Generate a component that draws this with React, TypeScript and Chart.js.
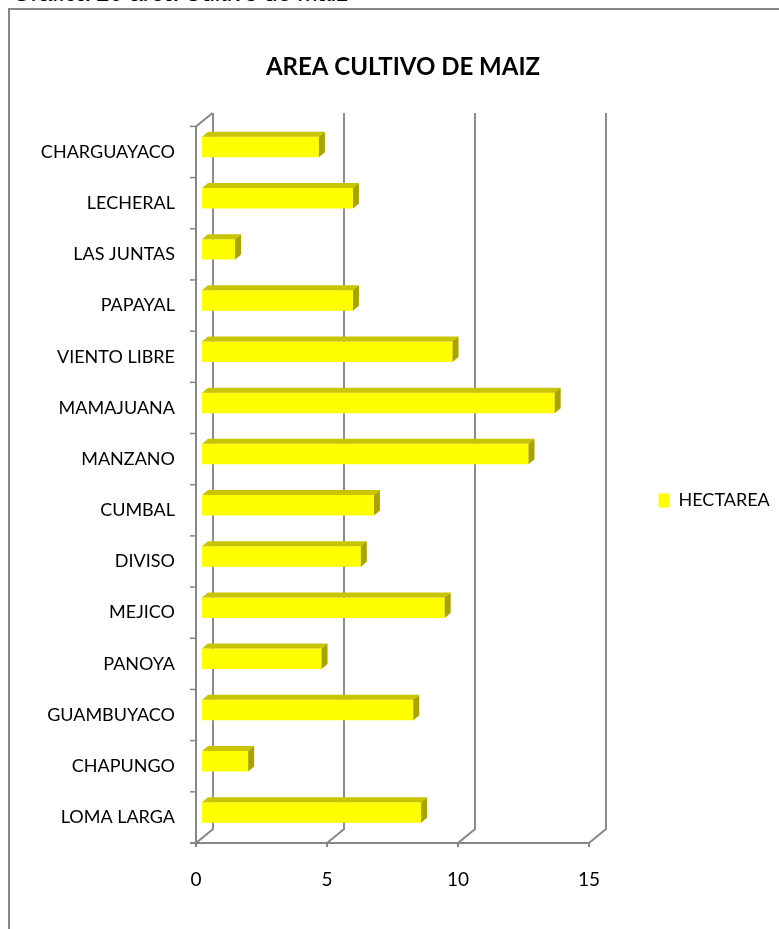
import React, { useEffect, useRef } from 'react';
import { Chart, registerables } from 'chart.js';

Chart.register(...registerables);

const pageHeading = 'Grafica 20 area Cultivo de maiz';
const chartTitle = 'AREA CULTIVO DE MAIZ';
const seriesLabel = 'HECTAREA';
const categories = [
  'CHARGUAYACO',
  'LECHERAL',
  'LAS JUNTAS',
  'PAPAYAL',
  'VIENTO LIBRE',
  'MAMAJUANA',
  'MANZANO',
  'CUMBAL',
  'DIVISO',
  'MEJICO',
  'PANOYA',
  'GUAMBUYACO',
  'CHAPUNGO',
  'LOMA LARGA',
];
const hectareas = [4.5, 5.8, 1.3, 5.8, 9.6, 13.5, 12.5, 6.6, 6.1, 9.3, 4.6, 8.1, 1.8, 8.4];
const xMin = 0;
const xMax = 15;
const xStep = 5;

// 3D look: back wall = chart area; front plane and bars offset from it
const FRONT_DX = -16.5;
const FRONT_DY = 13.5;
const BAR_DX = -11.5;
const BAR_DY = 8.5;
const DEPTH_DX = 6;
const DEPTH_DY = -5;
const AXIS_COLOR = '#868686';
const BAR_FRONT = '#FFFF00';
const BAR_TOP = '#C8C400';
const BAR_SIDE = '#A8A300';

const threeD = {
  id: 'threeD',
  beforeDatasetsDraw(chart: any) {
    const ctx = chart.ctx;
    const xs = chart.scales.x;
    const ys = chart.scales.y;
    const area = chart.chartArea;
    ctx.save();
    ctx.strokeStyle = AXIS_COLOR;
    ctx.lineCap = 'butt';
    const x0 = xs.getPixelForValue(xMin) + FRONT_DX;
    const x1 = xs.getPixelForValue(xMax) + FRONT_DX;
    const top = area.top + FRONT_DY;
    const bottom = area.bottom + FRONT_DY;
    ctx.lineWidth = 2;
    ctx.beginPath();
    ctx.moveTo(x0, top);
    ctx.lineTo(x0, bottom);
    ctx.stroke();
    ctx.beginPath();
    ctx.moveTo(x0, top);
    ctx.lineTo(x0 - FRONT_DX, top - FRONT_DY);
    ctx.stroke();
    const n = categories.length;
    const c0 = ys.getPixelForValue(0);
    const c1 = ys.getPixelForValue(1);
    const half = (c1 - c0) / 2;
    ctx.lineWidth = 1.5;
    for (let i = 0; i <= n; i++) {
      const yb = (i < n ? ys.getPixelForValue(i) - half : ys.getPixelForValue(n - 1) + half) + FRONT_DY;
      ctx.beginPath();
      ctx.moveTo(x0 - 6, yb);
      ctx.lineTo(x0, yb);
      ctx.stroke();
    }
    ctx.lineWidth = 2;
    ctx.beginPath();
    ctx.moveTo(x0 - 6, bottom);
    ctx.lineTo(x1, bottom);
    ctx.stroke();
    xs.ticks.forEach((t: any) => {
      const px = xs.getPixelForValue(t.value) + FRONT_DX;
      ctx.beginPath();
      ctx.moveTo(px, bottom);
      ctx.lineTo(px, bottom + 4);
      ctx.stroke();
      ctx.beginPath();
      ctx.moveTo(px, bottom);
      ctx.lineTo(px - FRONT_DX, bottom - FRONT_DY);
      ctx.stroke();
    });
    ctx.restore();
    ctx.save();
    ctx.translate(BAR_DX, BAR_DY);
  },
  afterDatasetsDraw(chart: any) {
    const ctx = chart.ctx;
    const meta = chart.getDatasetMeta(0);
    meta.data.forEach((el: any) => {
      const { x, y, base, height } = el.getProps(['x', 'y', 'base', 'height'], true);
      const left = Math.min(x, base);
      const right = Math.max(x, base);
      const t = y - height / 2;
      const b = y + height / 2;
      ctx.fillStyle = BAR_TOP;
      ctx.beginPath();
      ctx.moveTo(left, t);
      ctx.lineTo(right, t);
      ctx.lineTo(right + DEPTH_DX, t + DEPTH_DY);
      ctx.lineTo(left + DEPTH_DX, t + DEPTH_DY);
      ctx.closePath();
      ctx.fill();
      ctx.fillStyle = BAR_SIDE;
      ctx.beginPath();
      ctx.moveTo(right, t);
      ctx.lineTo(right + DEPTH_DX, t + DEPTH_DY);
      ctx.lineTo(right + DEPTH_DX, b + DEPTH_DY);
      ctx.lineTo(right, b);
      ctx.closePath();
      ctx.fill();
    });
    ctx.restore();
  },
};

export default function App() {
  const canvasRef = useRef<HTMLCanvasElement | null>(null);

  useEffect(() => {
    const canvas = canvasRef.current;
    if (!canvas) return;
    Chart.defaults.font.family = 'Lato';
    const chart = new Chart(canvas, {
      type: 'bar',
      data: {
        labels: categories,
        datasets: [
          {
            label: seriesLabel,
            data: hectareas,
            backgroundColor: BAR_FRONT,
            borderWidth: 0,
            barPercentage: 0.4,
            categoryPercentage: 1,
            clip: false as any,
          },
        ],
      },
      options: {
        indexAxis: 'y',
        responsive: false,
        animation: false,
        devicePixelRatio: 1,
        layout: { padding: { left: 30.5, right: 3.5, top: 0, bottom: 0 } },
        plugins: {
          title: {
            display: true,
            text: chartTitle,
            color: '#000',
            font: { family: 'Lato', size: 24, weight: 'bold', lineHeight: 1.2 },
            padding: { top: 53.1, bottom: 31 },
          },
          legend: {
            display: true,
            position: 'right',
            maxWidth: 170,
            title: { display: true, text: '', font: { size: 10, lineHeight: 1.2 }, padding: { top: 60, bottom: 0 } },
            labels: {
              boxWidth: 11,
              boxHeight: 14,
              padding: 53,
              color: '#000',
              font: { family: 'Lato', size: 18 },
            },
          },
          tooltip: { enabled: false },
        },
        scales: {
          x: {
            type: 'linear',
            min: xMin,
            max: xMax,
            ticks: {
              stepSize: xStep,
              color: '#000',
              font: { family: 'Lato', size: 19 },
              padding: 39,
              labelOffset: FRONT_DX,
            },
            grid: { display: true, color: '#8c8c8c', lineWidth: 2, drawTicks: false },
            border: { display: false },
            afterFit: (s: any) => {
              s.height = 99.5;
            },
          },
          y: {
            type: 'category',
            ticks: {
              autoSkip: false,
              color: '#000',
              font: { family: 'Lato', size: 18 },
              padding: 37.5,
              labelOffset: FRONT_DY,
            },
            grid: { display: false, drawTicks: false },
            border: { display: false },
            afterFit: (s: any) => {
              s.width = 182;
            },
          },
        },
      },
      plugins: [threeD],
    });
    return () => chart.destroy();
  }, []);

  return (
    <div
      style={{
        position: 'absolute',
        left: 0,
        top: 0,
        width: 779,
        height: 929,
        overflow: 'hidden',
        background: '#fff',
      }}
    >
      <div
        style={{
          position: 'absolute',
          left: 12,
          top: -19,
          fontFamily: '"Liberation Sans", Arial, sans-serif',
          fontSize: 24,
          lineHeight: '24px',
          whiteSpace: 'nowrap',
          color: '#000',
        }}
      >
        {pageHeading}
      </div>
      <div
        style={{
          position: 'absolute',
          left: 8,
          top: 8,
          width: 900,
          height: 1000,
          borderLeft: '2px solid #878787',
          borderTop: '2px solid #878787',
        }}
      />
      <canvas
        ref={canvasRef}
        width={779}
        height={929}
        style={{ position: 'absolute', left: 0, top: 0, width: 779, height: 929 }}
      />
    </div>
  );
}
